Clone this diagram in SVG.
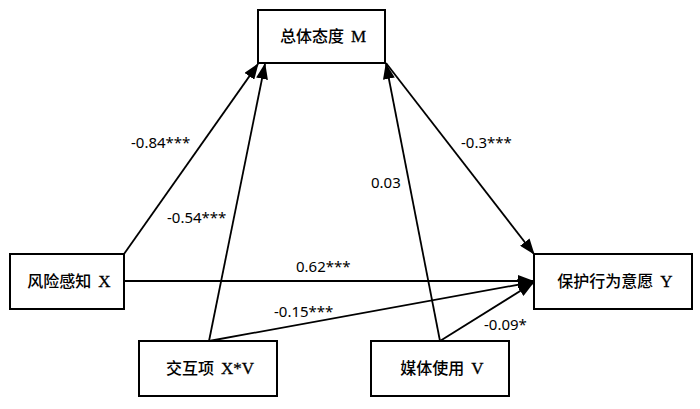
<svg xmlns="http://www.w3.org/2000/svg" width="700" height="409" viewBox="0 0 700 409">
<defs>
<marker id="ah" viewBox="0 0 16 12" refX="15" refY="6" markerWidth="16" markerHeight="12" markerUnits="userSpaceOnUse" orient="auto">
<path d="M0,0 L16,6 L0,12 z" fill="#000"/>
</marker>
<style>
.box{fill:#fff;stroke:#000;stroke-width:2}
.bt{font-family:"Liberation Serif","Noto Sans CJK SC",serif;font-size:16px;fill:#000;text-anchor:middle}
.cj{font-family:"Noto Sans CJK SC",sans-serif;font-weight:500}
.lt{font-size:17px;stroke:#000;stroke-width:0.3}
.ln{stroke:#000;stroke-width:1.8;fill:none;marker-end:url(#ah)}
.lb{font-family:"Noto Sans","Open Sans",sans-serif;font-size:15px;fill:#000}
</style>
</defs>
<rect width="700" height="409" fill="#fff"/>
<g id="connectors">
<line class="ln" x1="124" y1="254" x2="258" y2="64"/>
<line class="ln" x1="209" y1="341" x2="265" y2="64"/>
<line class="ln" x1="440" y1="341" x2="386" y2="64"/>
<line class="ln" x1="386" y1="63" x2="534" y2="254"/>
<line class="ln" x1="124" y1="281" x2="533" y2="281"/>
<line class="ln" x1="209" y1="341" x2="533" y2="282"/>
<line class="ln" x1="440" y1="341" x2="533" y2="283"/>
</g>
<g id="labels">
<text class="lb" x="131" y="148">-0.84***</text>
<text class="lb" x="167" y="223">-0.54***</text>
<text class="lb" x="371" y="188">0.03</text>
<text class="lb" x="461" y="148">-0.3***</text>
<text class="lb" x="296" y="272">0.62***</text>
<text class="lb" x="274" y="317">-0.15***</text>
<text class="lb" x="484" y="330">-0.09*</text>
</g>
<g id="M">
<rect class="box" x="258" y="10" width="127" height="53"/>
<text class="bt" x="323" y="42"><tspan class="cj">总体态度</tspan><tspan class="lt" dx="7">M</tspan></text>
</g>
<g id="X">
<rect class="box" x="10" y="254" width="114" height="55"/>
<text class="bt" x="69" y="287"><tspan class="cj">风险感知</tspan><tspan class="lt" dx="7">X</tspan></text>
</g>
<g id="Y">
<rect class="box" x="534" y="254" width="158" height="55"/>
<text class="bt" x="615" y="287"><tspan class="cj">保护行为意愿</tspan><tspan class="lt" dx="7">Y</tspan></text>
</g>
<g id="XV">
<rect class="box" x="139" y="341" width="138" height="55"/>
<text class="bt" x="210" y="374"><tspan class="cj">交互项</tspan><tspan class="lt" dx="7">X*V</tspan></text>
</g>
<g id="V">
<rect class="box" x="371" y="341" width="138" height="55"/>
<text class="bt" x="442" y="374"><tspan class="cj">媒体使用</tspan><tspan class="lt" dx="7">V</tspan></text>
</g>
</svg>
